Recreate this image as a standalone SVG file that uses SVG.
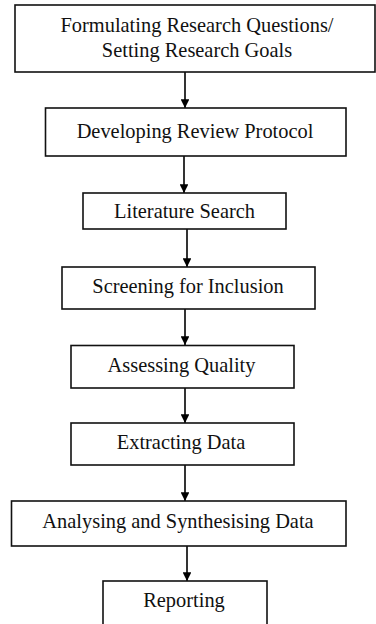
<svg xmlns="http://www.w3.org/2000/svg" width="376" height="624" viewBox="0 0 376 624">
  <defs>
    <marker id="arrow" viewBox="0 0 10 10" refX="10" refY="5" markerWidth="5.5" markerHeight="5.5" markerUnits="strokeWidth" orient="auto">
      <path d="M0,0 L10,5 L0,10 Z" fill="#000"/>
    </marker>
    <style>
      .box { fill: #fff; stroke: #111; stroke-width: 1.6; }
      .lbl { font-family: "Liberation Serif", "Times New Roman", serif; font-size: 20.4px; fill: #111; text-anchor: middle; }
      .edge { stroke: #000; stroke-width: 1.6; fill: none; marker-end: url(#arrow); }
    </style>
  </defs>
  <rect width="376" height="624" fill="#fff"/>

  <g id="connectors">
    <line class="edge" x1="185" y1="72" x2="185" y2="108"/>
    <line class="edge" x1="184" y1="156" x2="184" y2="193"/>
    <line class="edge" x1="187" y1="229" x2="187" y2="267"/>
    <line class="edge" x1="185" y1="309" x2="185" y2="345"/>
    <line class="edge" x1="185" y1="388" x2="185" y2="423"/>
    <line class="edge" x1="185" y1="465" x2="185" y2="501"/>
    <line class="edge" x1="187" y1="546" x2="187" y2="581"/>
  </g>

  <g id="formulating">
    <rect class="box" x="15" y="5" width="360" height="67"/>
    <text class="lbl" x="197" y="32">Formulating Research Questions/</text>
    <text class="lbl" x="197" y="57">Setting Research Goals</text>
  </g>

  <g id="protocol">
    <rect class="box" x="45.5" y="108" width="300.5" height="48"/>
    <text class="lbl" x="195" y="138">Developing Review Protocol</text>
  </g>

  <g id="search">
    <rect class="box" x="83" y="193" width="203" height="36"/>
    <text class="lbl" x="184.5" y="218">Literature Search</text>
  </g>

  <g id="screening">
    <rect class="box" x="62" y="267" width="253" height="42"/>
    <text class="lbl" x="188" y="293">Screening for Inclusion</text>
  </g>

  <g id="quality">
    <rect class="box" x="71" y="345.5" width="223" height="42.5"/>
    <text class="lbl" x="181.5" y="372">Assessing Quality</text>
  </g>

  <g id="extracting">
    <rect class="box" x="71" y="423" width="223" height="42"/>
    <text class="lbl" x="181" y="449">Extracting Data</text>
  </g>

  <g id="analysing">
    <rect class="box" x="11.5" y="501" width="334.5" height="45"/>
    <text class="lbl" x="178" y="528">Analysing and Synthesising Data</text>
  </g>

  <g id="reporting">
    <rect class="box" x="103" y="581" width="164" height="60"/>
    <text class="lbl" x="184" y="607">Reporting</text>
  </g>
</svg>
